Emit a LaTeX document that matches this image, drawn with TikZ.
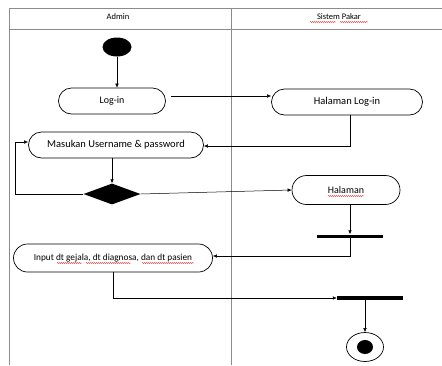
\documentclass[tikz,border=0pt]{standalone}
\usepackage{fontspec}
\setmainfont{Carlito}
\usetikzlibrary{arrows.meta,shapes.geometric,shapes.misc,decorations.pathmorphing}
\begin{document}
\begin{tikzpicture}[x=1pt,y=-1pt,
  lane/.style={draw=black!45,line width=0.8pt},
  act/.style={draw,rounded rectangle,line width=0.7pt,inner sep=0pt,font=\fontsize{10}{12}\selectfont},
  flow/.style={draw,line width=0.5pt,-{Latex[length=4pt,width=3.5pt]}},
  bar/.style={fill=black,inner sep=0pt},
  squig/.style={draw=red!80!black,line width=0.35pt,decorate,decoration={snake,amplitude=0.4pt,segment length=2pt}}]
\useasboundingbox (0,0) rectangle (442,365);
% swimlanes
\draw[lane] (9,365) -- (9,8) -- (442,8);
\draw[lane] (9,29) -- (442,29);
\draw[lane] (231,8) -- (231,365);
\node[font=\fontsize{8.5}{10}\selectfont] (hA) at (118,17) {Admin};
\node[font=\fontsize{8.5}{10}\selectfont] (hS) at (339,17) {Sistem Pakar};
% nodes
\node[ellipse,fill=black,minimum width=29pt,minimum height=19pt,inner sep=0pt] (start) at (117,47) {};
\node[act,minimum width=107pt,minimum height=26pt] (login) at (112,101) {Log-in};
\node[act,minimum width=151pt,minimum height=26pt,font=\fontsize{10.5}{12}\selectfont] (hlogin) at (347,102) {Halaman Log-in};
\node[act,minimum width=175pt,minimum height=26pt,font=\fontsize{10.5}{12}\selectfont] (masuk) at (116,145) {Masukan Username \& password};
\node[diamond,fill=black,minimum width=57pt,minimum height=21pt,inner sep=0pt] (dec) at (112,194) {};
\node[act,minimum width=108pt,minimum height=29pt] (hal) at (346,190) {Halaman};
\node[bar,minimum width=66pt,minimum height=3pt] (fork1) at (350,236) {};
\node[act,minimum width=199pt,minimum height=28pt,font=\fontsize{9.3}{11}\selectfont] (input) at (113,258) {Input dt gejala, dt diagnosa, dan dt pasien};
\node[bar,minimum width=66pt,minimum height=4pt] (fork2) at (370,298) {};
\node[ellipse,draw,line width=0.7pt,minimum width=37pt,minimum height=29pt,inner sep=0pt] (end) at (365,347) {};
\node[ellipse,fill=black,minimum width=16pt,minimum height=14pt,inner sep=0pt] (endin) at (365,347) {};
\coordinate (loopL) at (15,194);
\coordinate (loopT) at (15,142);
% spell-check squiggles
\draw[squig] (310,22) -- (336,22);
\draw[squig] (340,22) -- (368,22);
\draw[squig] (328,196) -- (364,196);
\draw[squig] (57,263) -- (82,263);
\draw[squig] (86,263) -- (131,263);
\draw[squig] (142,263) -- (194,263);
% flows
\draw[flow] (start.south) -- (start.south |- login.north);
\draw[flow] (171,96) -- (hlogin.west |- 0,96);
\draw[flow] (hlogin.south -| 350,0) -- (350,146) -- (masuk.east |- 0,146);
\draw[flow] (masuk.south -| dec.north) -- (dec.north);
\draw[flow] (dec.west) -- (loopL) -- (loopT) -- (masuk.west |- loopT);
\draw[flow] (dec.east) -- (hal.west);
\draw[flow] (hal.south -| fork1.north) -- (fork1.north);
\draw[flow] (fork1.south) -- (350,256) -- (input.east |- 0,256);
\draw[flow] (input.south) -- (113,298) -- (fork2.west);
\draw[flow] (fork2.south -| end.north) -- (end.north);
\end{tikzpicture}
\end{document}
